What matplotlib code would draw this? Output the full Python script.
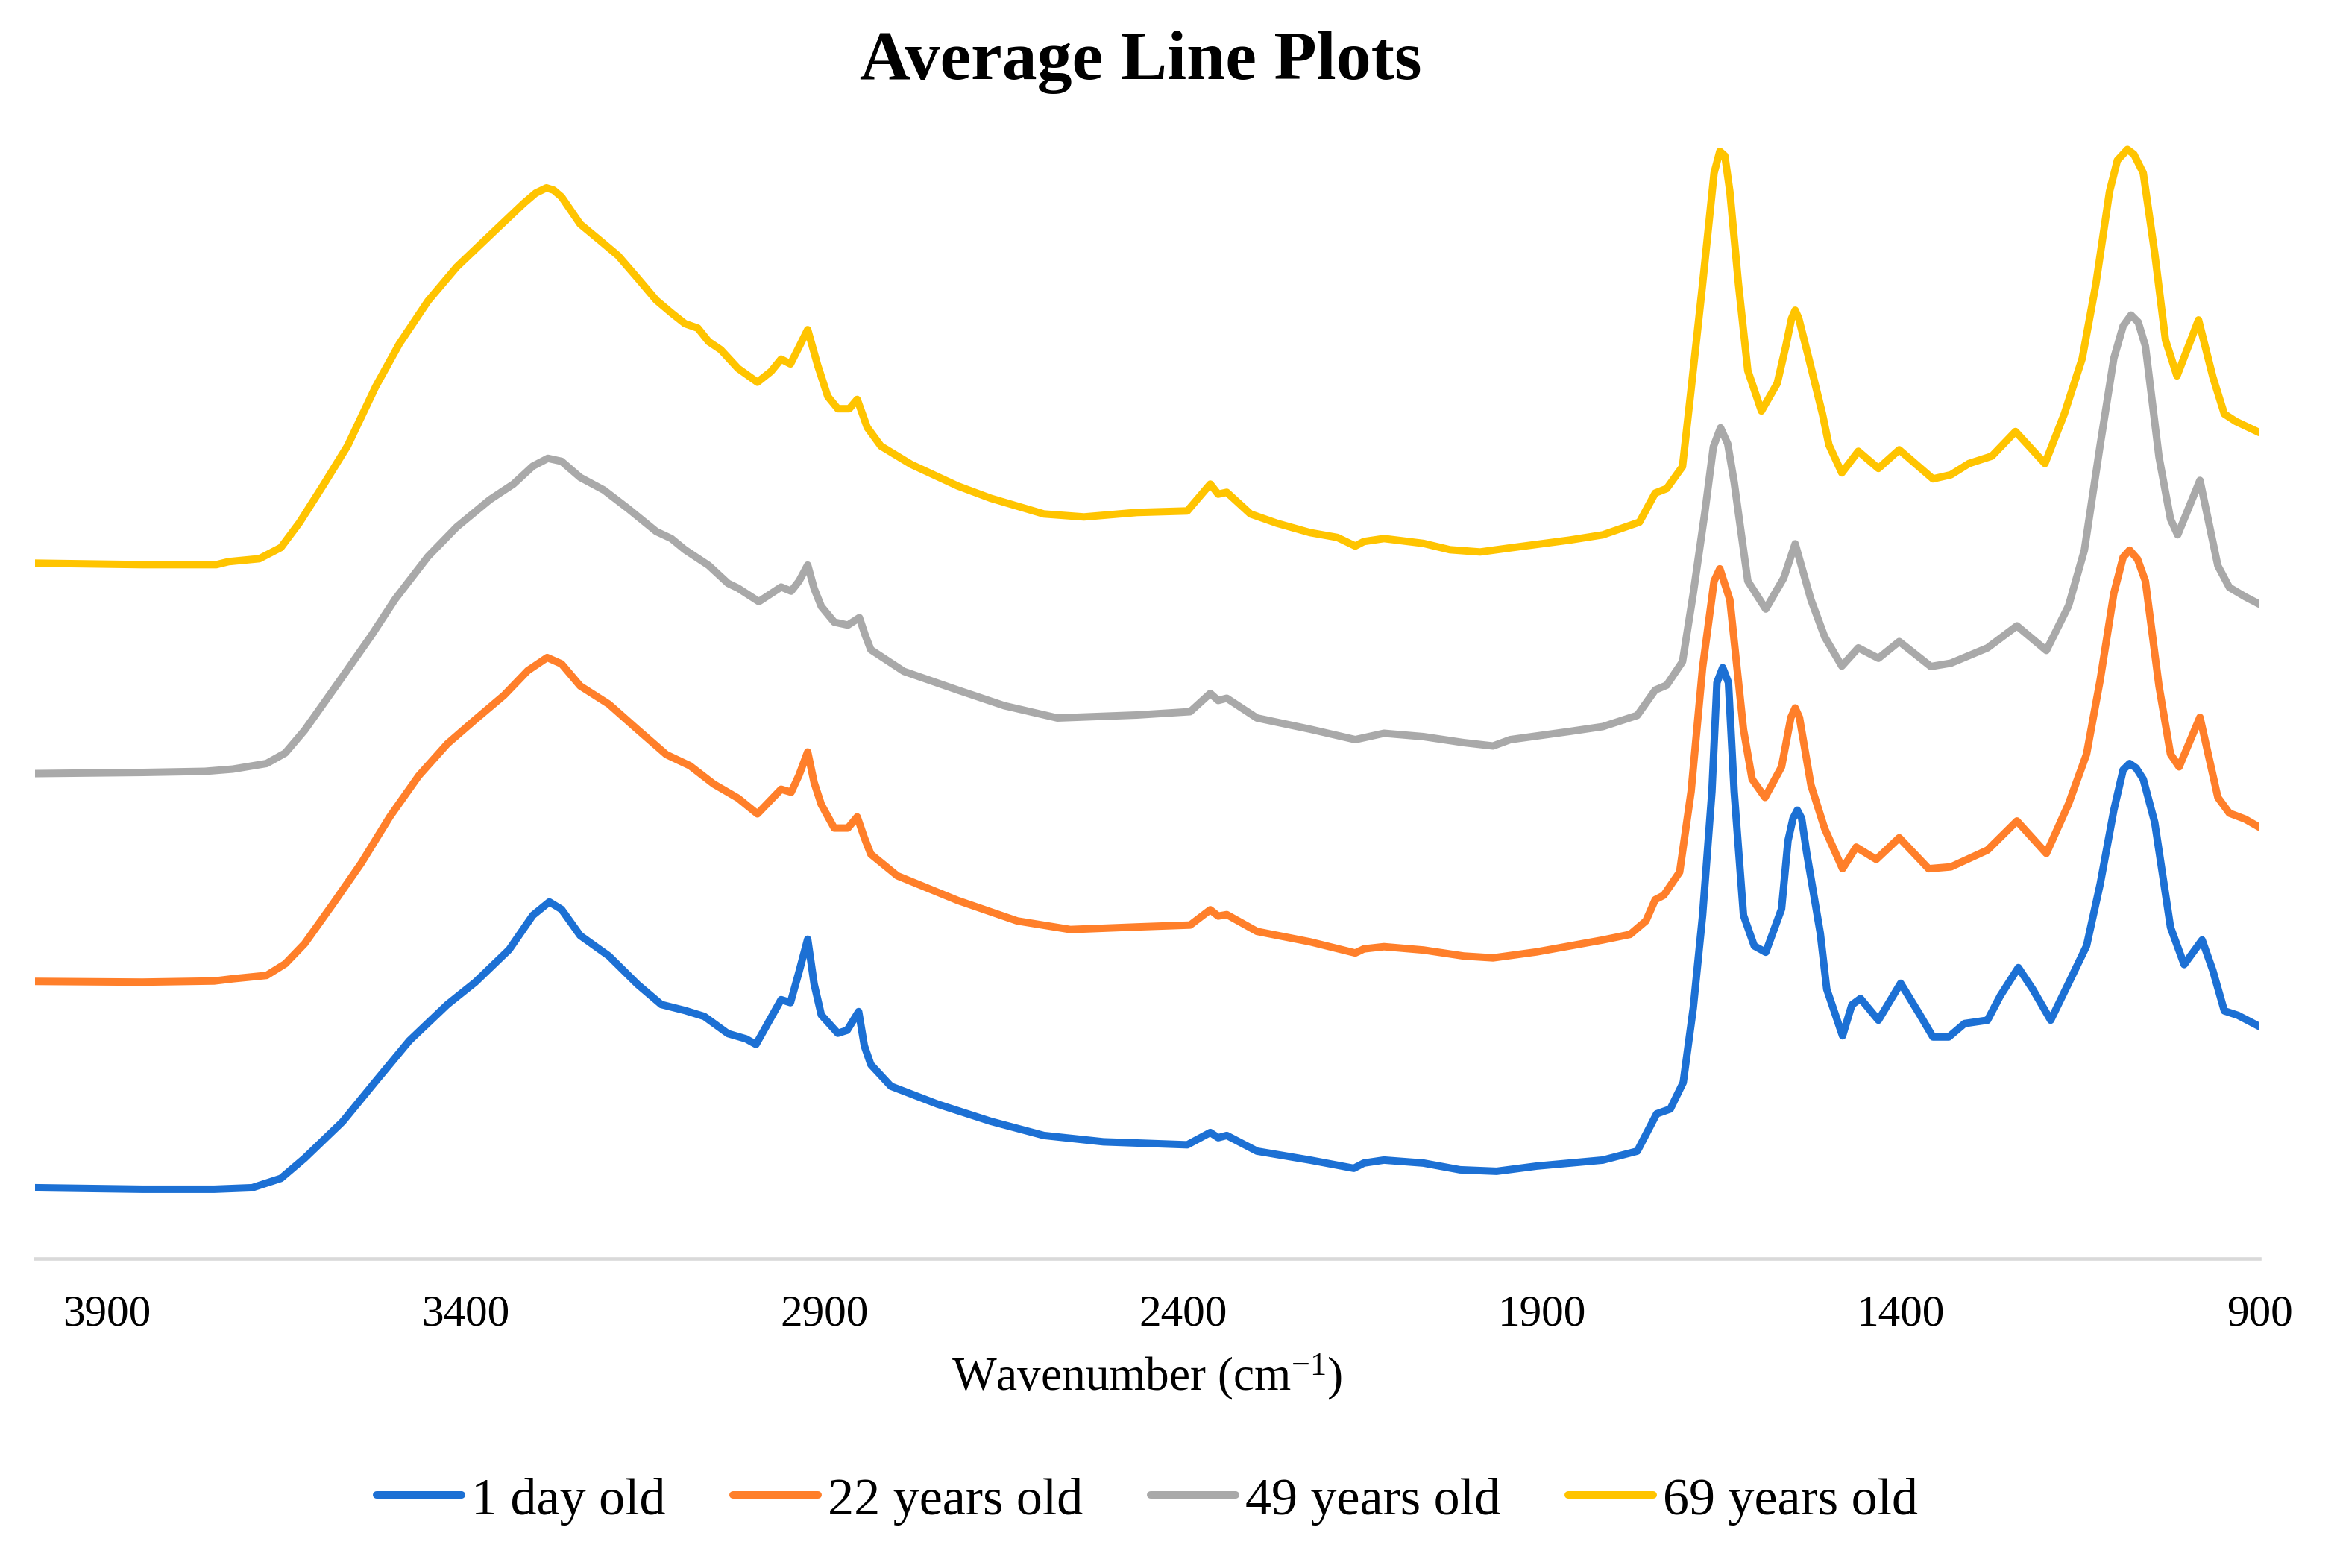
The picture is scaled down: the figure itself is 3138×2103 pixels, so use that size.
import matplotlib
matplotlib.use("Agg")
import matplotlib.pyplot as plt

plt.rcParams['font.family'] = ['Liberation Serif', 'DejaVu Serif']
plt.rcParams['mathtext.fontset'] = 'custom'
plt.rcParams['mathtext.rm'] = 'Liberation Serif'
plt.rcParams['mathtext.it'] = 'Liberation Serif:italic'
plt.rcParams['mathtext.bf'] = 'Liberation Serif:bold'

labels = ["1 day old", "22 years old", "49 years old", "69 years old"]
colors = ["#1c70d4", "#ff7f2a", "#a9a9a9", "#ffc400"]

xticks = [3900, 3400, 2900, 2400, 1900, 1400, 900]

wn_1day = [4000, 3850, 3750, 3697, 3657, 3624, 3571, 3525, 3478, 3425, 3386, 3339, 3306, 3283, 3266,
           3240, 3200, 3160, 3127, 3094, 3067, 3034, 3009, 2995, 2960, 2947, 2935, 2923, 2914, 2904,
           2881, 2868, 2852, 2844, 2835, 2807, 2742, 2668, 2594, 2511, 2394, 2362, 2351, 2339, 2297,
           2223, 2162, 2148, 2120, 2065, 2014, 1963, 1907, 1815, 1767, 1740, 1721, 1703, 1689, 1676,
           1663, 1656, 1648, 1640, 1632, 1619, 1604, 1588, 1566, 1557, 1550, 1544, 1538, 1531, 1512,
           1503, 1481, 1468, 1456, 1431, 1400, 1374, 1355, 1333, 1311, 1279, 1261, 1236, 1216, 1191,
           1166, 1141, 1122, 1103, 1090, 1081, 1072, 1062, 1046, 1024, 1005, 980, 965, 949, 930, 900]
ab_1day = [0.190, 0.186, 0.186, 0.190, 0.215, 0.269, 0.367, 0.475, 0.584, 0.681, 0.741, 0.828, 0.920, 0.956, 0.936,
           0.866, 0.811, 0.735, 0.681, 0.665, 0.649, 0.603, 0.589, 0.574, 0.694, 0.686, 0.769, 0.856, 0.736, 0.653,
           0.604, 0.612, 0.662, 0.570, 0.520, 0.462, 0.414, 0.368, 0.330, 0.313, 0.305, 0.338, 0.324, 0.330, 0.288,
           0.264, 0.242, 0.256, 0.264, 0.256, 0.238, 0.234, 0.248, 0.264, 0.288, 0.388, 0.401, 0.472, 0.672, 0.920,
           1.252, 1.544, 1.584, 1.544, 1.252, 0.920, 0.838, 0.821, 0.937, 1.120, 1.180, 1.202, 1.180, 1.088, 0.872,
           0.722, 0.597, 0.680, 0.697, 0.639, 0.738, 0.656, 0.594, 0.594, 0.630, 0.639, 0.705, 0.780, 0.722, 0.639,
           0.738, 0.838, 1.004, 1.202, 1.310, 1.327, 1.315, 1.285, 1.169, 0.888, 0.788, 0.854, 0.772, 0.664, 0.652, 0.622]

wn_22y = [4000, 3850, 3750, 3724, 3677, 3651, 3624, 3584, 3545, 3505, 3465, 3425, 3386, 3346, 3313,
          3286, 3266, 3240, 3200, 3160, 3120, 3087, 3054, 3020, 2993, 2960, 2946, 2935, 2923, 2914,
          2904, 2886, 2867, 2854, 2844, 2835, 2798, 2714, 2631, 2557, 2464, 2390, 2362, 2351, 2339,
          2297, 2223, 2160, 2148, 2120, 2065, 2009, 1968, 1907, 1815, 1777, 1755, 1742, 1730, 1708,
          1692, 1676, 1660, 1652, 1638, 1619, 1607, 1589, 1566, 1553, 1547, 1541, 1525, 1506, 1481,
          1462, 1434, 1402, 1361, 1330, 1279, 1238, 1197, 1166, 1141, 1122, 1103, 1090, 1081, 1070,
          1059, 1040, 1024, 1012, 983, 958, 942, 920, 900]
ab_22y = [0.743, 0.741, 0.744, 0.750, 0.759, 0.790, 0.844, 0.952, 1.060, 1.185, 1.294, 1.380, 1.445, 1.510, 1.576,
          1.611, 1.594, 1.535, 1.486, 1.418, 1.351, 1.321, 1.272, 1.234, 1.192, 1.258, 1.250, 1.296, 1.358, 1.276,
          1.217, 1.154, 1.154, 1.184, 1.128, 1.084, 1.026, 0.960, 0.905, 0.882, 0.889, 0.894, 0.935, 0.918, 0.922,
          0.877, 0.849, 0.819, 0.830, 0.836, 0.827, 0.811, 0.806, 0.822, 0.854, 0.869, 0.905, 0.962, 0.974, 1.036,
          1.252, 1.584, 1.816, 1.849, 1.766, 1.418, 1.285, 1.236, 1.318, 1.450, 1.476, 1.450, 1.269, 1.153, 1.045,
          1.103, 1.070, 1.128, 1.045, 1.050, 1.095, 1.173, 1.086, 1.219, 1.352, 1.551, 1.783, 1.880, 1.899, 1.875,
          1.816, 1.534, 1.352, 1.318, 1.451, 1.236, 1.194, 1.178, 1.156]

wn_49y = [4000, 3850, 3763, 3724, 3677, 3651, 3624, 3571, 3531, 3498, 3452, 3412, 3366, 3333, 3306,
          3285, 3266, 3240, 3207, 3173, 3134, 3113, 3094, 3061, 3034, 3020, 2991, 2960, 2946, 2935,
          2923, 2914, 2904, 2886, 2867, 2851, 2843, 2835, 2789, 2714, 2649, 2575, 2464, 2390, 2362,
          2351, 2339, 2297, 2223, 2160, 2120, 2065, 2009, 1968, 1944, 1861, 1815, 1767, 1742, 1726,
          1704, 1689, 1673, 1661, 1651, 1641, 1632, 1613, 1588, 1563, 1547, 1525, 1506, 1482, 1459,
          1431, 1402, 1358, 1330, 1279, 1238, 1197, 1166, 1144, 1122, 1103, 1090, 1079, 1069, 1059,
          1040, 1024, 1014, 983, 958, 942, 920, 900]
ab_49y = [1.300, 1.303, 1.306, 1.312, 1.327, 1.355, 1.416, 1.560, 1.670, 1.767, 1.882, 1.961, 2.034, 2.076, 2.124,
          2.145, 2.137, 2.094, 2.060, 2.010, 1.949, 1.930, 1.900, 1.858, 1.810, 1.797, 1.761, 1.800, 1.789, 1.816,
          1.859, 1.796, 1.748, 1.706, 1.698, 1.718, 1.672, 1.632, 1.574, 1.524, 1.482, 1.449, 1.457, 1.466, 1.515,
          1.496, 1.502, 1.449, 1.419, 1.391, 1.408, 1.399, 1.383, 1.374, 1.391, 1.413, 1.426, 1.456, 1.524, 1.537,
          1.600, 1.783, 1.998, 2.176, 2.227, 2.184, 2.081, 1.816, 1.741, 1.824, 1.916, 1.766, 1.667, 1.588, 1.637,
          1.609, 1.654, 1.587, 1.596, 1.637, 1.696, 1.630, 1.750, 1.899, 2.181, 2.413, 2.500, 2.529, 2.510, 2.446,
          2.148, 1.982, 1.940, 2.086, 1.857, 1.799, 1.774, 1.754]

wn_69y = [4000, 3850, 3747, 3730, 3687, 3657, 3631, 3597, 3564, 3525, 3492, 3452, 3412, 3359, 3319,
          3302, 3287, 3277, 3266, 3240, 3213, 3187, 3160, 3134, 3113, 3094, 3076, 3061, 3044, 3020,
          2993, 2974, 2960, 2947, 2937, 2923, 2909, 2895, 2881, 2865, 2854, 2840, 2821, 2779, 2714,
          2668, 2594, 2538, 2464, 2394, 2362, 2351, 2339, 2306, 2269, 2223, 2185, 2160, 2148, 2120,
          2065, 2028, 1986, 1944, 1861, 1815, 1764, 1742, 1726, 1704, 1692, 1676, 1660, 1652, 1645,
          1638, 1626, 1613, 1594, 1572, 1560, 1552, 1547, 1542, 1528, 1509, 1500, 1482, 1459, 1431,
          1402, 1355, 1330, 1305, 1273, 1240, 1199, 1172, 1147, 1128, 1109, 1098, 1084, 1075, 1062,
          1046, 1031, 1015, 985, 965, 949, 933, 900]
ab_69y = [1.864, 1.860, 1.860, 1.868, 1.876, 1.906, 1.973, 2.076, 2.179, 2.337, 2.452, 2.567, 2.658, 2.755, 2.828,
          2.856, 2.870, 2.864, 2.846, 2.773, 2.730, 2.688, 2.628, 2.569, 2.535, 2.506, 2.494, 2.458, 2.436, 2.386,
          2.349, 2.378, 2.411, 2.398, 2.436, 2.490, 2.394, 2.311, 2.278, 2.278, 2.303, 2.228, 2.178, 2.129, 2.071,
          2.038, 1.996, 1.988, 2.000, 2.004, 2.076, 2.049, 2.054, 1.996, 1.971, 1.946, 1.933, 1.910, 1.922, 1.930,
          1.917, 1.900, 1.894, 1.905, 1.926, 1.940, 1.974, 2.052, 2.064, 2.123, 2.330, 2.612, 2.910, 2.968, 2.956,
          2.860, 2.612, 2.380, 2.272, 2.346, 2.446, 2.520, 2.542, 2.520, 2.413, 2.264, 2.181, 2.106, 2.164, 2.118,
          2.168, 2.090, 2.101, 2.131, 2.151, 2.217, 2.131, 2.264, 2.413, 2.612, 2.860, 2.944, 2.973, 2.960, 2.910,
          2.695, 2.462, 2.366, 2.516, 2.363, 2.264, 2.244, 2.214]

series = [(wn_1day, ab_1day), (wn_22y, ab_22y), (wn_49y, ab_49y), (wn_69y, ab_69y)]

fig = plt.figure(figsize=(10.46, 7.0133), dpi=300)
ax = fig.add_axes([0.01485, 0.19725, 0.95075, 0.72675])

for (wn, ab), lab, col in zip(series, labels, colors):
    ax.plot(wn, ab, color=col, lw=2.4, label=lab,
            solid_joinstyle='round', solid_capstyle='round')

ax.set_xlim(4000, 900)
ax.set_ylim(0, 3.056)
ax.set_xticks(xticks)
ax.set_xticklabels([str(t) for t in xticks])
ax.set_yticks([])
for s in ['top', 'left', 'right']:
    ax.spines[s].set_visible(False)
ax.spines['bottom'].set_color('#d9d9d9')
ax.spines['bottom'].set_linewidth(1.1)
ax.tick_params(axis='x', length=0, pad=11.5, labelsize=14.2, labelcolor='black')

ax.set_xlabel("Wavenumber (cm$^{\\mathrm{-1}}$)", fontsize=15.2)
ax.xaxis.set_label_coords(0.5, -0.1145)
ax.xaxis.label.set_verticalalignment('baseline')

fig.text(0.4876, 0.9496, "Average Line Plots", ha='center', va='baseline',
         fontsize=22.5, fontweight='bold')

ax.legend(loc='center', bbox_to_anchor=(0.5, -0.2125), ncol=4, frameon=False,
          fontsize=16.8, handlelength=1.63, handletextpad=0.18, columnspacing=1.3,
          borderaxespad=0)

fig.savefig("out.png", dpi=300)
